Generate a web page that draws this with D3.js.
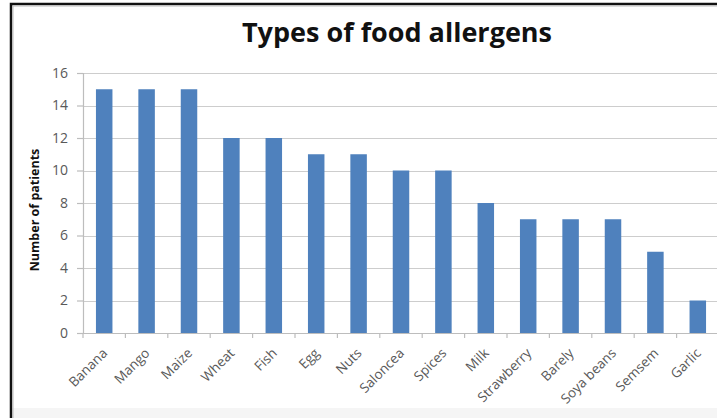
<!DOCTYPE html>
<html>
<head>
<meta charset="utf-8">
<script src="https://cdn.jsdelivr.net/npm/d3@7"></script>
<style>
  html, body { margin: 0; padding: 0; background: #fff; }
  svg { display: block; }
</style>
</head>
<body>
<svg id="chart" width="717" height="418"></svg>
<script>
// Food allergen counts
const categories = ["Banana", "Mango", "Maize", "Wheat", "Fish", "Egg", "Nuts", "Saloncea",
  "Spices", "Milk", "Strawberry", "Barely", "Soya beans", "Semsem", "Garlic"];
const patients = [15, 15, 15, 12, 12, 11, 11, 10, 10, 8, 7, 7, 7, 5, 2];
const yTicks = [0, 2, 4, 6, 8, 10, 12, 14, 16];
const titleText = "Types of food allergens";
const yTitle = "Number of patients";

const W = 717, H = 418;
const plot = { left: 83, right: 719, top: 73, bottom: 333 };
const font = "'Open Sans', Lato, sans-serif";

const svg = d3.select("#chart");

// frame
svg.append("rect").attr("x", 0).attr("y", 0).attr("width", W).attr("height", H).attr("fill", "#fff");
svg.append("rect").attr("x", 12).attr("y", 408).attr("width", W).attr("height", 10).attr("fill", "#f5f5f5");
svg.append("path")
  .attr("d", `M11,${H} L11,4 L${W},4`)
  .attr("fill", "none").attr("stroke", "#111").attr("stroke-width", 2.5);
svg.append("path")
  .attr("d", `M13,${H} L13,6 L${W},6`)
  .attr("fill", "none").attr("stroke", "#bbb").attr("stroke-width", 1);

const x = d3.scaleBand().domain(categories).range([plot.left, plot.right]).paddingInner(0).paddingOuter(0);
const y = d3.scaleLinear().domain([0, 16]).range([plot.bottom, plot.top]);

// horizontal gridlines
svg.append("g").selectAll("line").data(yTicks.filter(d => d > 0)).join("line")
  .attr("x1", plot.left).attr("x2", plot.right)
  .attr("y1", d => Math.round(y(d)) + 0.5).attr("y2", d => Math.round(y(d)) + 0.5)
  .attr("stroke", "#cdcdcd").attr("stroke-width", 1.2);

// bars
const bw = 16.5;
svg.append("g").selectAll("rect").data(categories).join("rect")
  .attr("x", (d) => x(d) + x.bandwidth() / 2 - bw / 2)
  .attr("width", bw)
  .attr("y", (d, i) => y(patients[i]))
  .attr("height", (d, i) => y(0) - y(patients[i]))
  .attr("fill", "#4f81bd");

// y axis
const yAxis = svg.append("g")
  .attr("transform", `translate(${plot.left},0)`)
  .call(d3.axisLeft(y).tickValues(yTicks).tickSize(6).tickPadding(9));
yAxis.select(".domain").attr("stroke", "#bdbdbd").attr("stroke-width", 1.2);
yAxis.selectAll(".tick line").attr("stroke", "#bdbdbd").attr("stroke-width", 1.2);
yAxis.selectAll(".tick text").attr("fill", "#595959").style("font-family", font).style("font-size", "14px");

// x axis
const xAxis = svg.append("g")
  .attr("transform", `translate(0,${plot.bottom})`)
  .call(d3.axisBottom(x).tickSize(0).tickPadding(0));
xAxis.select(".domain").attr("stroke", "#bdbdbd").attr("stroke-width", 1.2);
// boundary tick marks between categories
xAxis.append("g").selectAll("line").data(categories).join("line")
  .attr("x1", d => x(d)).attr("x2", d => x(d))
  .attr("y1", 0).attr("y2", 5)
  .attr("stroke", "#bdbdbd").attr("stroke-width", 1.2);
xAxis.selectAll(".tick text")
  .attr("fill", "#595959")
  .style("font-family", font).style("font-size", "13.5px")
  .attr("text-anchor", "end")
  .attr("dy", 0)
  .attr("transform", "translate(4,21) rotate(-45)");

// title
svg.append("text")
  .attr("x", 397).attr("y", 42)
  .attr("text-anchor", "middle")
  .attr("fill", "#111")
  .style("font-family", font).style("font-weight", "bold").style("font-size", "27px")
  .text(titleText);

// y axis title
svg.append("text")
  .attr("transform", `translate(39,210) rotate(-90)`)
  .attr("text-anchor", "middle")
  .attr("fill", "#111")
  .style("font-family", font).style("font-weight", "bold").style("font-size", "12.5px")
  .text(yTitle);
</script>
</body>
</html>
